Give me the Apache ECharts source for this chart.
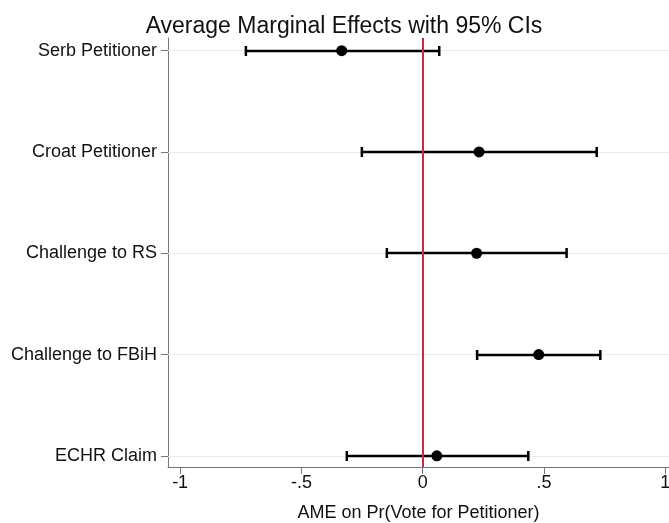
<!DOCTYPE html>
<html>
<head>
<meta charset="utf-8">
<script src="https://cdn.jsdelivr.net/npm/echarts@6/dist/echarts.min.js"></script>
<style>html,body{margin:0;padding:0;background:#fff;overflow:hidden;}#c{width:669px;height:523px;}</style>
</head>
<body>
<div id="c"></div>
<script>
const categories = ['Serb Petitioner', 'Croat Petitioner', 'Challenge to RS', 'Challenge to FBiH', 'ECHR Claim'];
const estimates = [-0.334, 0.232, 0.222, 0.478, 0.058];
const lowerCI = [-0.729, -0.251, -0.148, 0.224, -0.313];
const upperCI = [0.068, 0.717, 0.593, 0.732, 0.435];
const xTicks = [-1, -0.5, 0, 0.5, 1];
const xTickLabels = ['-1', '-.5', '0', '.5', '1'];

const n = categories.length;
const yPos = categories.map((c, i) => n - i);
const pointData = estimates.map((v, i) => [v, yPos[i]]);
const ciData = categories.map((c, i) => [lowerCI[i], upperCI[i], yPos[i]]);

const chart = echarts.init(document.getElementById('c'), null, {renderer: 'canvas', width: 669, height: 523});
const FONT = 'Liberation Sans, Arial, sans-serif';
chart.setOption({
  animation: false,
  backgroundColor: '#fff',
  title: {
    text: 'Average Marginal Effects with 95% CIs',
    left: 339, top: 10, textAlign: 'center',
    textStyle: {fontFamily: FONT, fontSize: 23, fontWeight: 'normal', color: '#111'}
  },
  grid: {left: 168, width: 501, top: 38, height: 429, containLabel: false, outerBoundsMode: 'none'},
  xAxis: {
    type: 'value', min: -1.05, max: 1.015,
    name: 'AME on Pr(Vote for Petitioner)', nameLocation: 'middle', nameGap: 37,
    nameTextStyle: {fontFamily: FONT, fontSize: 18, color: '#111'},
    axisLine: {show: true, onZero: false, lineStyle: {color: '#777', width: 1}},
    axisTick: {show: true, length: 7, customValues: xTicks, lineStyle: {color: '#777'}},
    axisLabel: {
      customValues: xTicks, margin: 7,
      fontFamily: FONT, fontSize: 18, color: '#111',
      formatter: v => { const k = xTicks.findIndex(t => Math.abs(t - v) < 1e-9); return k >= 0 ? xTickLabels[k] : ''; }
    },
    splitLine: {show: false}
  },
  yAxis: {
    type: 'value', min: 0.89, max: 5.125,
    axisLine: {show: true, onZero: false, lineStyle: {color: '#777', width: 1}},
    axisTick: {show: true, length: 7, customValues: yPos, lineStyle: {color: '#777'}},
    axisLabel: {
      customValues: yPos, margin: 11,
      fontFamily: FONT, fontSize: 18, color: '#111',
      formatter: v => { const k = yPos.findIndex(t => Math.abs(t - v) < 1e-9); return k >= 0 ? categories[k] : ''; }
    },
    splitLine: {show: false}
  },
  series: [
    {
      type: 'line', data: [], silent: true, z: 1,
      markLine: {
        silent: true, symbol: 'none', label: {show: false}, z: 1,
        lineStyle: {color: '#e6ecee', width: 1, type: 'solid'},
        data: yPos.map(y => ({yAxis: y}))
      }
    },
    {
      type: 'line', data: [], silent: true, z: 6,
      markLine: {
        silent: true, symbol: 'none', label: {show: false}, z: 6,
        lineStyle: {color: '#c8284a', width: 2, type: 'solid'},
        data: [{xAxis: 0}]
      }
    },
    {
      type: 'custom', z: 4,
      data: ciData,
      renderItem: function (params, api) {
        const lo = api.coord([api.value(0), api.value(2)]);
        const hi = api.coord([api.value(1), api.value(2)]);
        const y = Math.round(lo[1]);
        const h = 5;
        const style = {stroke: '#000', lineWidth: 2.5};
        return {
          type: 'group',
          children: [
            {type: 'line', shape: {x1: lo[0], y1: y, x2: hi[0], y2: y}, style: style},
            {type: 'line', shape: {x1: lo[0], y1: y - h, x2: lo[0], y2: y + h}, style: style},
            {type: 'line', shape: {x1: hi[0], y1: y - h, x2: hi[0], y2: y + h}, style: style}
          ]
        };
      }
    },
    {
      type: 'scatter', z: 7, symbol: 'circle', symbolSize: 11,
      itemStyle: {color: '#000', opacity: 1},
      data: pointData
    }
  ]
});
</script>
</body>
</html>
